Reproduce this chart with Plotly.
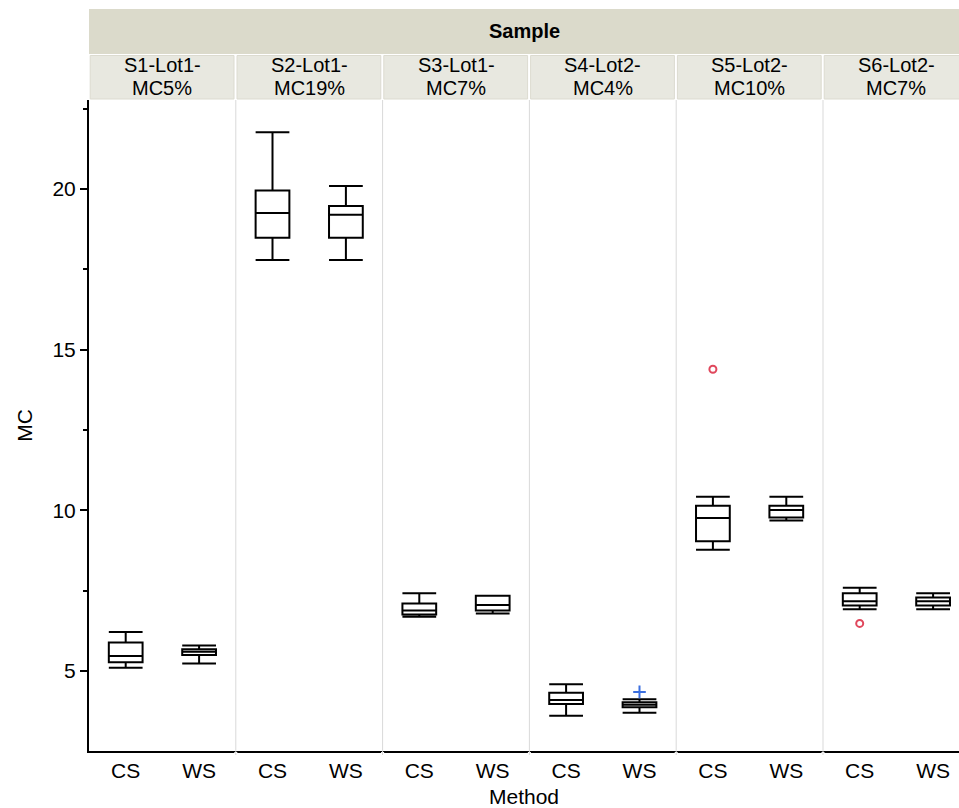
import plotly.graph_objects as go

# Sample groups (facet columns) and measurement methods
samples = ["S1-Lot1-<br>MC5%", "S2-Lot1-<br>MC19%", "S3-Lot1-<br>MC7%",
           "S4-Lot2-<br>MC4%", "S5-Lot2-<br>MC10%", "S6-Lot2-<br>MC7%"]
methods = ["CS", "WS"]

# Box statistics per sample for method CS
cs_low = [5.10, 17.79, 6.69, 3.61, 8.77, 6.92]
cs_q1 = [5.27, 18.48, 6.76, 3.97, 9.04, 7.04]
cs_med = [5.47, 19.25, 6.88, 4.10, 9.76, 7.17]
cs_q3 = [5.89, 19.95, 7.10, 4.32, 10.14, 7.42]
cs_high = [6.21, 21.77, 7.42, 4.59, 10.42, 7.59]

# Box statistics per sample for method WS
ws_low = [5.23, 17.79, 6.79, 3.70, 9.68, 6.92]
ws_q1 = [5.50, 18.48, 6.88, 3.87, 9.78, 7.04]
ws_med = [5.60, 19.20, 7.05, 3.95, 10.01, 7.17]
ws_q3 = [5.68, 19.47, 7.34, 4.03, 10.14, 7.29]
ws_high = [5.79, 20.09, 7.34, 4.12, 10.42, 7.42]

# Flagged points: (sample index, method, value)
outlier_sample = [4, 5]
outlier_method = ["CS", "CS"]
outlier_value = [14.39, 6.48]
plus_sample = [3]
plus_method = ["WS"]
plus_value = [4.35]

FONT = "Liberation Sans, Arial, sans-serif"
n = len(samples)
offset = {"CS": 0.25, "WS": 0.75}


def pos(i, m):
    return i + offset[m]


fig = go.Figure()

stats = {"CS": (cs_low, cs_q1, cs_med, cs_q3, cs_high),
         "WS": (ws_low, ws_q1, ws_med, ws_q3, ws_high)}
for m in methods:
    lo, q1, med, q3, hi = stats[m]
    fig.add_trace(go.Box(
        x=[pos(i, m) for i in range(n)],
        lowerfence=lo, q1=q1, median=med, q3=q3, upperfence=hi,
        width=0.23, whiskerwidth=1,
        line=dict(color="black", width=2),
        fillcolor="rgba(0,0,0,0)",
        boxpoints=False, name=m, showlegend=False,
    ))

fig.add_trace(go.Scatter(
    x=[pos(i, m) for i, m in zip(outlier_sample, outlier_method)],
    y=outlier_value, mode="markers", showlegend=False,
    marker=dict(symbol="circle-open", size=7, color="#e0475c",
                line=dict(width=2, color="#e0475c")),
))
fig.add_trace(go.Scatter(
    x=[pos(i, m) for i, m in zip(plus_sample, plus_method)],
    y=plus_value, mode="markers", showlegend=False,
    marker=dict(symbol="cross-thin", size=9, color="#3b6fe0",
                line=dict(width=2, color="#3b6fe0")),
))

W, H = 959, 808
ml, mt, mb = 89, 100, 57
plot_h = H - mt - mb
px_per_unit = 146.8
x_max = (W - ml) / px_per_unit


def py(y_px):
    # pixel row -> paper coordinate
    return (H - mb - y_px) / plot_h


shapes = []
# Top "Sample" header band
shapes.append(dict(type="rect", xref="paper", yref="paper",
                   x0=0, x1=1, y0=py(54), y1=py(9),
                   fillcolor="#dbdacb", line=dict(width=0), layer="above"))
# Per-sample strips and panel separators
for i in range(n):
    shapes.append(dict(type="rect", xref="x", yref="paper",
                       x0=i + 1.2 / px_per_unit, x1=i + 1 - 1.8 / px_per_unit,
                       y0=py(99), y1=py(55.5),
                       fillcolor="#e8e8e0", line=dict(width=1, color="#dcdbd0"),
                       layer="above"))
for i in range(1, n):
    shapes.append(dict(type="line", xref="x", yref="paper",
                       x0=i, x1=i, y0=py(754), y1=py(752),
                       line=dict(color="white", width=3), layer="above"))
    shapes.append(dict(type="line", xref="x", yref="paper",
                       x0=i, x1=i, y0=py(755), y1=1,
                       line=dict(color="#d9d9d9", width=1), layer="above"))

annotations = [dict(text="<b>Sample</b>", xref="paper", yref="paper",
                    x=0.5, y=py(31), yanchor="middle", showarrow=False,
                    font=dict(family=FONT, size=20, color="black"))]
for i, s in enumerate(samples):
    for line_text, row in zip(s.split("<br>"), (65, 88)):
        annotations.append(dict(text=line_text, xref="x", yref="paper",
                                x=i + 0.5, y=py(row), yanchor="middle",
                                showarrow=False,
                                font=dict(family=FONT, size=20, color="black")))

fig.update_layout(
    width=W, height=H,
    margin=dict(l=ml, r=0, t=mt, b=mb),
    paper_bgcolor="white", plot_bgcolor="white",
    boxmode="overlay",
    font=dict(family=FONT, size=19, color="black"),
    shapes=shapes, annotations=annotations,
    xaxis=dict(
        range=[0, x_max], tickmode="array",
        tickvals=[pos(i, m) for i in range(n) for m in methods],
        ticktext=[m for i in range(n) for m in methods],
        showgrid=False, zeroline=False,
        showline=True, linecolor="black", linewidth=2,
        ticks="", tickfont=dict(size=21),
        title=dict(text="Method", font=dict(size=21), standoff=8),
    ),
    yaxis=dict(
        range=[2.51, 22.77], tickmode="linear", tick0=0, dtick=5,
        showgrid=False, zeroline=False,
        showline=True, linecolor="black", linewidth=2,
        ticks="outside", ticklen=7, tickwidth=2, tickcolor="black",
        minor=dict(ticks="outside", ticklen=4, tickwidth=1.5,
                   tickcolor="black", dtick=2.5, tick0=0, showgrid=False),
        tickfont=dict(size=21),
        title=dict(text="MC", font=dict(size=21), standoff=14),
    ),
)

fig.write_html("out.html")
